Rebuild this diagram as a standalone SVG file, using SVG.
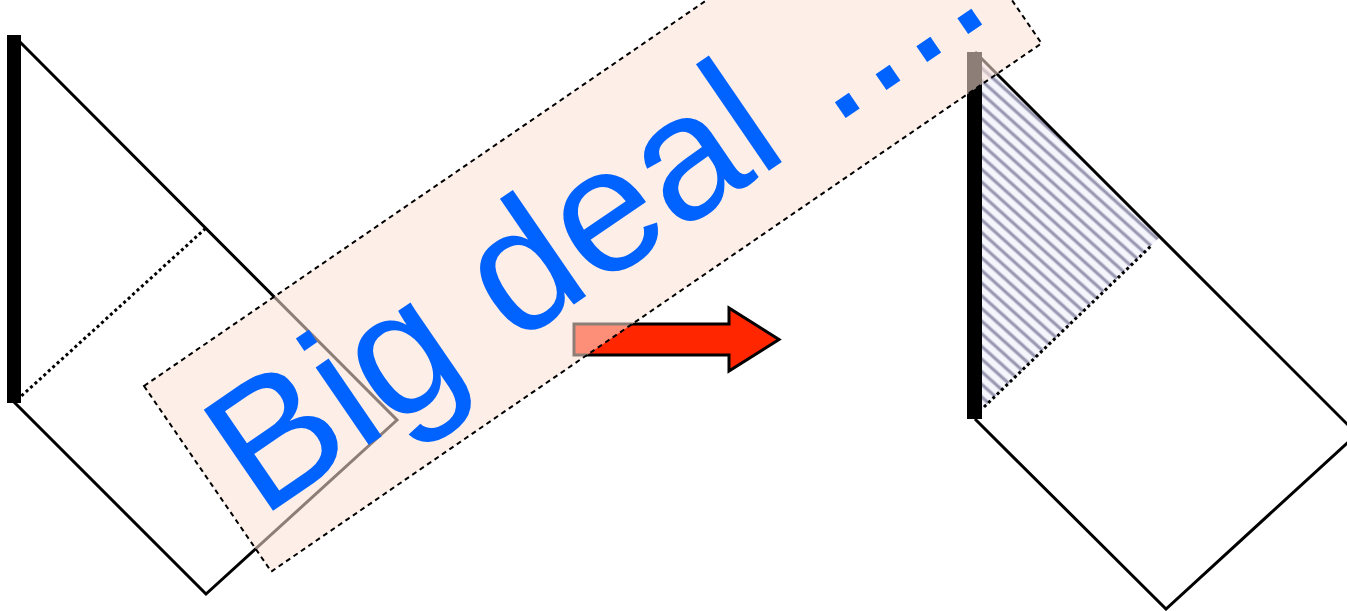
<svg xmlns="http://www.w3.org/2000/svg" width="1347" height="611" viewBox="0 0 1347 611">
<style>
.edge{fill:none;stroke:#000;stroke-width:3;stroke-linejoin:miter}
.dot{fill:none;stroke:#000;stroke-width:3;stroke-dasharray:3 3}
.bar{fill:#000}
.label{font-family:"Liberation Sans",Arial,sans-serif;font-size:178px;fill:#0062ff}
</style>
<defs>
<pattern id="hatch" patternUnits="userSpaceOnUse" width="9.4" height="9.4" patternTransform="rotate(42)">
<rect width="9.4" height="9.4" fill="#f5f5fc"/>
<line x1="0" y1="4.7" x2="9.4" y2="4.7" stroke="#c4c4d6" stroke-width="4"/>
<line x1="0" y1="4.7" x2="9.4" y2="4.7" stroke="#9696b0" stroke-width="2.2"/>
</pattern>
</defs>
<rect width="1347" height="611" fill="#fff"/>
<g id="left-diagram">
<path class="edge" d="M14,36 L397,420 L206,594 L14,402"/>
<path class="dot" d="M17,400 L206,228"/>
<rect class="bar" x="7" y="35" width="14" height="368"/>
</g>
<g id="right-diagram">
<polygon points="982,58 1160,237 982,409" fill="url(#hatch)"/>
<path class="edge" d="M975,52 L1357,434 L1166,609 L975,419"/>
<path class="dot" d="M984,407 L1152,245"/>
<rect class="bar" x="967" y="52" width="15" height="367"/>
</g>
<g id="connectors">
<polygon id="arrow" points="574,324 729,324 729,308 779,339.5 729,371 729,355 574,355" fill="#ff2600" stroke="#000" stroke-width="3" stroke-linejoin="miter"/>
</g>
<g id="banner">
<g transform="translate(144,386) rotate(-34.44)">
<rect x="0" y="0" width="934" height="225" fill="#fbe2d6" fill-opacity="0.56"/>
<rect x="0" y="0" width="934" height="225" fill="none" stroke="#000" stroke-width="2" stroke-dasharray="5 4"/>
</g>
<text class="label" transform="translate(261,519) rotate(-34.44)" x="0" y="0">Big deal ....</text>
</g>
</svg>
